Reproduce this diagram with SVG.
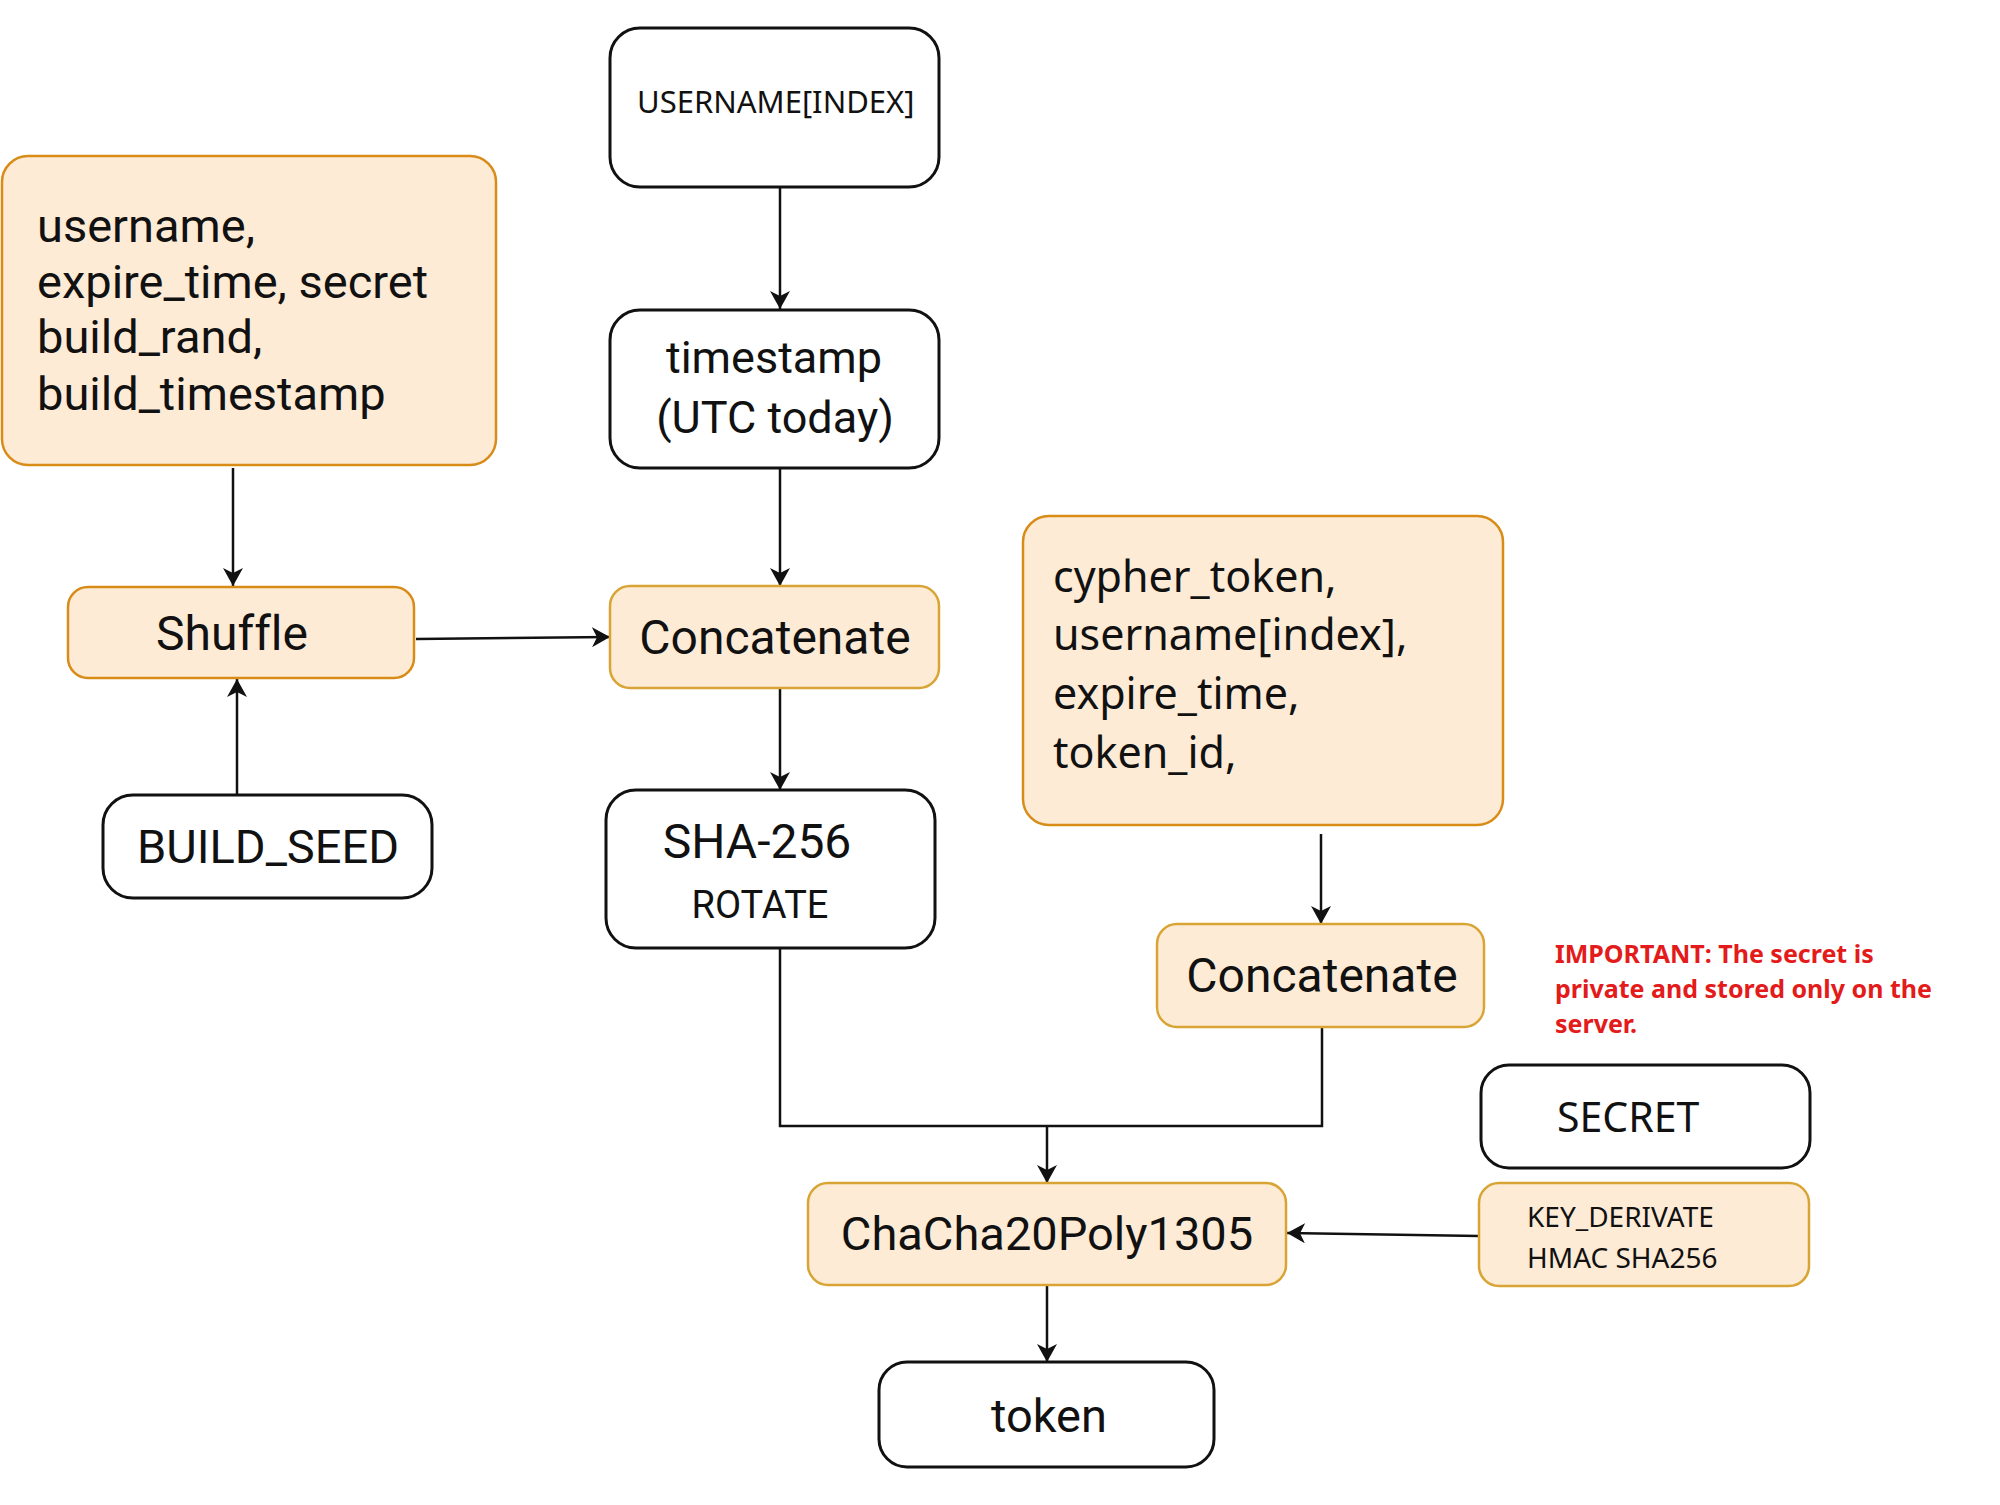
<svg xmlns="http://www.w3.org/2000/svg" width="2000" height="1505" viewBox="0 0 2000 1505">
<style>
.w{fill:#ffffff;stroke:#111111;stroke-width:3}
.o{fill:#fdebd6;stroke:#d98b18;stroke-width:2.5}
.g{fill:#fdebd6;stroke:#d8a535;stroke-width:2.5}
.r{font-family:Roboto,"Liberation Sans",sans-serif;fill:#111111;font-variant-ligatures:none}
.n{font-family:"Noto Sans","Open Sans",sans-serif;fill:#111111}
.c{text-anchor:middle}
.imp{font-family:"Noto Sans","Open Sans",sans-serif;font-weight:bold;font-size:25px;fill:#e31b1b}
.ln{fill:none;stroke:#111111;stroke-width:2.5}
</style>
<defs>
<marker id="ah" viewBox="0 0 18 20" refX="18" refY="10" markerWidth="18" markerHeight="20" markerUnits="userSpaceOnUse" orient="auto">
<path d="M0,0 L18,10 L0,20 L5,10 Z" fill="#111111"/>
</marker>
</defs>
<rect width="2000" height="1505" fill="#ffffff"/>

<g id="connectors">
<path class="ln" d="M780,187 L780,309" marker-end="url(#ah)"/>
<path class="ln" d="M233,468 L233,586" marker-end="url(#ah)"/>
<path class="ln" d="M237,795 L237,679" marker-end="url(#ah)"/>
<path class="ln" d="M416,639 L610,637" marker-end="url(#ah)"/>
<path class="ln" d="M780,468 L780,586" marker-end="url(#ah)"/>
<path class="ln" d="M780,688 L780,790" marker-end="url(#ah)"/>
<path class="ln" d="M780,948 L780,1126 L1322,1126 L1322,1027"/>
<path class="ln" d="M1047,1126 L1047,1183" marker-end="url(#ah)"/>
<path class="ln" d="M1321,834 L1321,924" marker-end="url(#ah)"/>
<path class="ln" d="M1479,1236 L1287,1233" marker-end="url(#ah)"/>
<path class="ln" d="M1047,1285 L1047,1362" marker-end="url(#ah)"/>
</g>

<g id="inputs">
<rect class="o" x="2" y="156" width="494" height="309" rx="26"/>
<text class="r" font-size="47" x="37" y="242">username,</text>
<text class="r" font-size="47" x="37" y="298">expire_time, secret</text>
<text class="r" font-size="47" x="37" y="353">build_rand,</text>
<text class="r" font-size="47" x="37" y="410">build_timestamp</text>
</g>

<g id="username-index">
<rect class="w" x="610" y="28" width="329" height="159" rx="30"/>
<text class="n" font-size="31" x="637" y="113">USERNAME[INDEX]</text>
</g>

<g id="timestamp">
<rect class="w" x="610" y="310" width="329" height="158" rx="30"/>
<text class="r c" font-size="45" x="774" y="373">timestamp</text>
<text class="r c" font-size="45" x="775" y="433">(UTC today)</text>
</g>

<g id="shuffle">
<rect class="o" x="68" y="587" width="346" height="91" rx="20"/>
<text class="r c" font-size="48" x="232" y="650">Shuffle</text>
</g>

<g id="concatenate-1">
<rect class="g" x="610" y="586" width="329" height="102" rx="20"/>
<text class="r c" font-size="48" x="775" y="654">Concatenate</text>
</g>

<g id="build-seed">
<rect class="w" x="103" y="795" width="329" height="103" rx="30"/>
<text class="r c" font-size="47" x="268" y="863">BUILD_SEED</text>
</g>

<g id="sha256">
<rect class="w" x="606" y="790" width="329" height="158" rx="30"/>
<text class="r c" font-size="48" x="757" y="858">SHA-256</text>
<text class="r c" font-size="38" x="760" y="918">ROTATE</text>
</g>

<g id="token-fields">
<rect class="o" x="1023" y="516" width="480" height="309" rx="26"/>
<text class="n" font-size="43" x="1053" y="592">cypher_token,</text>
<text class="n" font-size="43" x="1053" y="650">username[index],</text>
<text class="n" font-size="43" x="1053" y="709">expire_time,</text>
<text class="n" font-size="43" x="1053" y="768">token_id,</text>
</g>

<g id="concatenate-2">
<rect class="g" x="1157" y="924" width="327" height="103" rx="20"/>
<text class="r c" font-size="48" x="1322" y="992">Concatenate</text>
</g>

<g id="note">
<text class="imp" x="1555" y="963">IMPORTANT: The secret is</text>
<text class="imp" x="1555" y="998">private and stored only on the</text>
<text class="imp" x="1555" y="1033">server.</text>
</g>

<g id="secret">
<rect class="w" x="1481" y="1065" width="329" height="103" rx="28"/>
<text class="n" font-size="41" x="1557" y="1132">SECRET</text>
</g>

<g id="key-derivate">
<rect class="g" x="1479" y="1183" width="330" height="103" rx="20"/>
<text class="n" font-size="28" x="1527" y="1227">KEY_DERIVATE</text>
<text class="n" font-size="28" x="1527" y="1268">HMAC SHA256</text>
</g>

<g id="chacha">
<rect class="g" x="808" y="1183" width="478" height="102" rx="20"/>
<text class="r c" font-size="47" x="1047" y="1250">ChaCha20Poly1305</text>
</g>

<g id="token">
<rect class="w" x="879" y="1362" width="335" height="105" rx="28"/>
<text class="r c" font-size="47" x="1049" y="1432">token</text>
</g>
</svg>
